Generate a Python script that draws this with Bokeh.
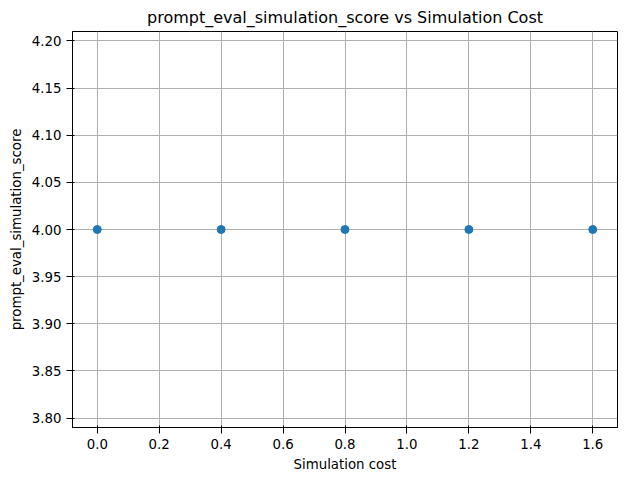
from bokeh.plotting import figure
from bokeh.models import Range1d, FixedTicker
from bokeh.embed import file_html
from bokeh.resources import INLINE

costs = [0.0, 0.4, 0.8, 1.2, 1.6]
scores = [4.0, 4.0, 4.0, 4.0, 4.0]
xticks = [0.0, 0.2, 0.4, 0.6, 0.8, 1.0, 1.2, 1.4, 1.6]
yticks = [3.80, 3.85, 3.90, 3.95, 4.00, 4.05, 4.10, 4.15, 4.20]

p = figure(frame_width=545, frame_height=396, output_backend="svg", toolbar_location=None,
           title="prompt_eval_simulation_score vs Simulation Cost",
           x_range=Range1d(-0.08, 1.68), y_range=Range1d(3.79, 4.21),
           min_border_left=72, min_border_right=8, min_border_bottom=50, min_border_top=10)
p.title.align = "center"
p.title.text_font_size = "12pt"
p.title.text_font_style = "normal"
p.title.text_font = "DejaVu Sans"
p.title.text_color = "black"
p.scatter(costs, scores, size=8, color="#1f77b4")
p.xaxis.axis_label = "Simulation cost"
p.yaxis.axis_label = "prompt_eval_simulation_score"
p.xaxis.ticker = FixedTicker(ticks=xticks)
p.yaxis.ticker = FixedTicker(ticks=yticks)
p.xaxis.major_label_overrides = {t: f"{t:.1f}" for t in xticks}
p.yaxis.major_label_overrides = {t: f"{t:.2f}" for t in yticks}
for ax in (p.xaxis, p.yaxis):
    ax.axis_label_text_font = "DejaVu Sans"
    ax.axis_label_text_font_style = "normal"
    ax.axis_label_text_font_size = "10pt"
    ax.axis_label_text_color = "black"
    ax.major_label_text_font = "DejaVu Sans"
    ax.major_label_text_font_size = "10pt"
    ax.major_label_text_color = "black"
    ax.major_tick_line_color = "black"
    ax.minor_tick_line_color = None
    ax.axis_line_color = "black"
p.grid.grid_line_color = "#b0b0b0"
p.outline_line_color = "black"

open("out.html", "w").write(file_html(p, INLINE))
